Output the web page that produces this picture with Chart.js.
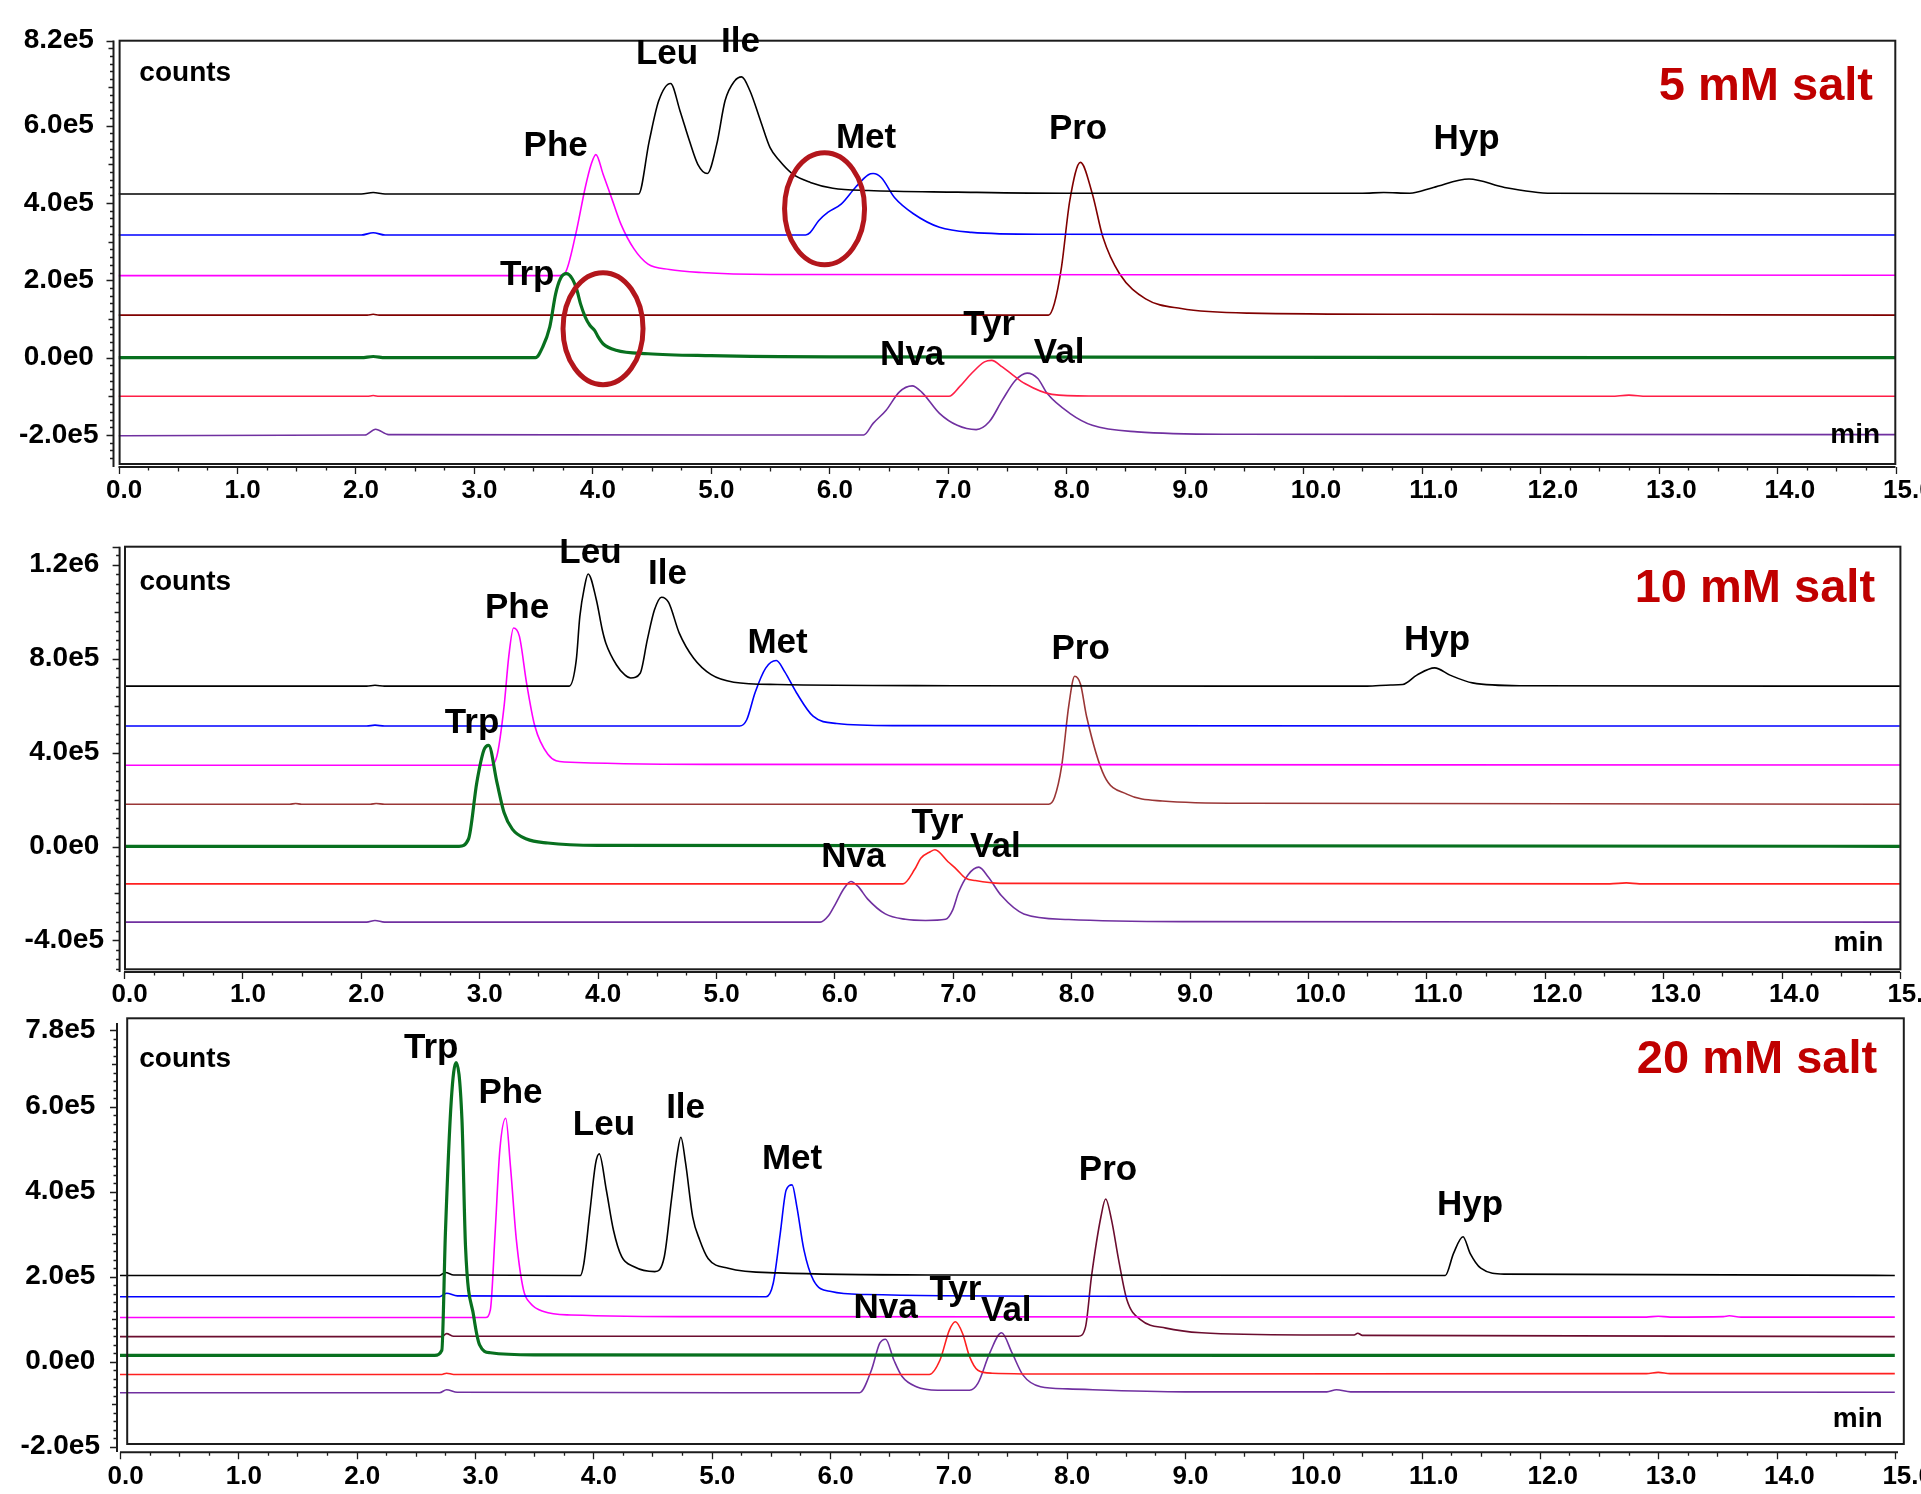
<!DOCTYPE html>
<html>
<head>
<meta charset="utf-8">
<title>Amino acid separation at 5, 10 and 20 mM salt</title>
<script src="https://cdn.jsdelivr.net/npm/chart.js@4.4.1/dist/chart.umd.min.js"></script>
<style>
  html, body { margin: 0; padding: 0; background: #ffffff; width: 1921px; height: 1494px; overflow: hidden; }
  canvas.panel { position: absolute; left: 0; }
</style>
</head>
<body>
<canvas id="panel5" class="panel"></canvas>
<canvas id="panel10" class="panel"></canvas>
<canvas id="panel20" class="panel"></canvas>
<script>
// ---------- axis tick values ----------
const timeTicks = [0, 1, 2, 3, 4, 5, 6, 7, 8, 9, 10, 11, 12, 13, 14, 15];
const countTicks5 = [-2e5, 0, 2e5, 4e5, 6e5, 8.2e5];
const countTicks10 = [-4e5, 0, 4e5, 8e5, 1.2e6];
const countTicks20 = [-2e5, 0, 2e5, 4e5, 6e5, 7.8e5];

// ---------- 5 mM salt traces: [time (min), counts] ----------
const trp5 = [[0,0],[2.05,0],[2.15,0.03e5],[2.25,0],[3.52,0],[3.58,0.27e5],[3.64,0.79e5],[3.69,1.65e5],[3.73,2.04e5],[3.78,2.17e5],[3.83,2.04e5],[3.87,1.74e5],[3.9,1.39e5],[3.94,1.05e5],[3.98,0.83e5],[4.02,0.7e5],[4.05,0.53e5],[4.09,0.36e5],[4.2,0.19e5],[4.47,0.1e5],[5,0.05e5],[6,0.02e5],[15,0]];
const leu5 = [[0,4.23e5],[2.05,4.23e5],[2.15,4.27e5],[2.25,4.23e5],[4.39,4.23e5],[4.48,5.6e5],[4.56,6.64e5],[4.66,7.09e5],[4.74,6.38e5],[4.82,5.6e5],[4.89,5.0e5],[4.97,4.76e5],[5.05,5.52e5],[5.12,6.64e5],[5.2,7.15e5],[5.26,7.26e5],[5.33,6.9e5],[5.42,6.12e5],[5.5,5.43e5],[5.58,5.09e5],[5.69,4.75e5],[5.84,4.53e5],[6.03,4.38e5],[6.33,4.32e5],[7.08,4.28e5],[8,4.25e5],[10.5,4.25e5],[10.68,4.27e5],[10.9,4.25e5],[11.1,4.4e5],[11.4,4.62e5],[11.7,4.4e5],[12.1,4.25e5],[15,4.23e5]];
const met5 = [[0,3.17e5],[2.05,3.17e5],[2.15,3.23e5],[2.25,3.17e5],[5.8,3.17e5],[5.84,3.24e5],[5.91,3.54e5],[5.99,3.76e5],[6.1,3.97e5],[6.22,4.4e5],[6.33,4.73e5],[6.37,4.76e5],[6.44,4.65e5],[6.55,4.14e5],[6.71,3.72e5],[6.93,3.37e5],[7.2,3.24e5],[7.8,3.19e5],[15,3.17e5]];
const phe5 = [[0,2.12e5],[3.72,2.12e5],[3.77,2.19e5],[3.86,3.2e5],[3.94,4.4e5],[3.99,5.0e5],[4.03,5.25e5],[4.09,4.75e5],[4.17,4.06e5],[4.24,3.46e5],[4.35,2.82e5],[4.47,2.42e5],[4.65,2.28e5],[4.92,2.2e5],[5.5,2.15e5],[15,2.13e5]];
const pro5 = [[0,1.1e5],[2.1,1.1e5],[2.15,1.12e5],[2.2,1.1e5],[7.85,1.1e5],[7.9,1.4e5],[7.96,2.34e5],[8.03,4.06e5],[8.12,5.05e5],[8.22,4.24e5],[8.31,3.11e5],[8.45,2.17e5],[8.67,1.52e5],[8.97,1.27e5],[9.54,1.15e5],[11,1.12e5],[15,1.1e5]];
const tyr5 = [[0,-1e5],[2.1,-1e5],[2.15,-0.98e5],[2.2,-1e5],[7.01,-1e5],[7.1,-0.75e5],[7.2,-0.41e5],[7.31,-0.11e5],[7.37,-0.07e5],[7.46,-0.24e5],[7.55,-0.45e5],[7.65,-0.67e5],[7.88,-0.95e5],[8.2,-0.99e5],[12.6,-1e5],[12.75,-0.97e5],[12.9,-1e5],[15,-1e5]];
const nvaVal5 = [[0,-2.02e5],[2.08,-2.0e5],[2.17,-1.85e5],[2.28,-1.99e5],[6.29,-2.0e5],[6.37,-1.7e5],[6.48,-1.36e5],[6.59,-0.89e5],[6.7,-0.73e5],[6.78,-0.89e5],[6.93,-1.44e5],[7.08,-1.75e5],[7.24,-1.86e5],[7.35,-1.66e5],[7.46,-1.1e5],[7.57,-0.59e5],[7.67,-0.4e5],[7.76,-0.54e5],[7.84,-0.93e5],[8.03,-1.44e5],[8.22,-1.75e5],[8.6,-1.92e5],[9.35,-1.98e5],[15,-1.99e5]];

// ---------- 10 mM salt traces ----------
const trp10 = [[0,0.01e5],[2.83,0.01e5],[2.91,0.32e5],[2.98,2.73e5],[3.04,4.11e5],[3.08,4.31e5],[3.15,2.73e5],[3.21,1.45e5],[3.28,0.74e5],[3.4,0.32e5],[3.58,0.15e5],[4,0.05e5],[15,0.01e5]];
const leu10 = [[0,6.83e5],[2.05,6.83e5],[2.12,6.87e5],[2.2,6.83e5],[3.76,6.83e5],[3.82,7.94e5],[3.85,9.79e5],[3.89,1.107e6],[3.92,1.161e6],[3.99,1.05e6],[4.04,9.22e5],[4.07,8.66e5],[4.16,7.73e5],[4.23,7.31e5],[4.28,7.18e5],[4.36,7.38e5],[4.42,8.8e5],[4.48,1.007e6],[4.54,1.062e6],[4.6,1.04e6],[4.69,9.09e5],[4.81,8.03e5],[4.96,7.32e5],[5.15,7.0e5],[5.52,6.9e5],[7,6.85e5],[10.5,6.83e5],[10.7,6.88e5],[10.8,6.9e5],[10.92,7.3e5],[11.07,7.61e5],[11.2,7.3e5],[11.39,6.97e5],[11.8,6.85e5],[15,6.83e5]];
const met10 = [[0,5.13e5],[2.05,5.13e5],[2.12,5.17e5],[2.2,5.13e5],[5.2,5.13e5],[5.26,5.4e5],[5.33,6.55e5],[5.42,7.6e5],[5.51,7.92e5],[5.58,7.45e5],[5.68,6.55e5],[5.82,5.55e5],[6.02,5.24e5],[6.5,5.15e5],[15,5.13e5]];
const phe10 = [[0,3.46e5],[3.09,3.46e5],[3.15,3.86e5],[3.21,5.96e5],[3.25,8.1e5],[3.29,9.31e5],[3.34,8.95e5],[3.4,6.97e5],[3.47,5.13e5],[3.58,3.93e5],[3.72,3.6e5],[5,3.5e5],[15,3.47e5]];
const pro10 = [[0,1.8e5],[1.4,1.8e5],[1.45,1.83e5],[1.5,1.8e5],[2.08,1.8e5],[2.13,1.83e5],[2.2,1.8e5],[7.81,1.8e5],[7.86,2.1e5],[7.92,3.43e5],[7.98,6.0e5],[8.03,7.25e5],[8.08,6.9e5],[8.13,5.55e5],[8.28,3.01e5],[8.47,2.23e5],[8.77,1.94e5],[9.5,1.84e5],[15,1.8e5]];
const tyr10 = [[0,-1.59e5],[6.58,-1.59e5],[6.68,-0.96e5],[6.73,-0.5e5],[6.81,-0.22e5],[6.85,-0.14e5],[6.96,-0.65e5],[7.03,-0.96e5],[7.11,-1.35e5],[7.19,-1.45e5],[7.4,-1.57e5],[12.55,-1.59e5],[12.69,-1.55e5],[12.8,-1.59e5],[15,-1.59e5]];
const nvaVal10 = [[0,-3.22e5],[2.05,-3.22e5],[2.12,-3.15e5],[2.2,-3.22e5],[5.88,-3.22e5],[5.95,-2.95e5],[6.01,-2.44e5],[6.08,-1.8e5],[6.14,-1.49e5],[6.2,-1.7e5],[6.28,-2.23e5],[6.43,-2.87e5],[6.6,-3.1e5],[6.77,-3.15e5],[6.94,-3.1e5],[7.0,-2.7e5],[7.05,-1.94e5],[7.13,-1.2e5],[7.22,-0.88e5],[7.3,-1.3e5],[7.41,-2.09e5],[7.6,-2.87e5],[7.98,-3.11e5],[9,-3.2e5],[15,-3.22e5]];

// ---------- 20 mM salt traces ----------
const trp20 = [[0,0.15e5],[2.66,0.15e5],[2.72,0.27e5],[2.75,3.02e5],[2.8,6.16e5],[2.84,7.04e5],[2.89,5.69e5],[2.92,2.71e5],[2.99,1.06e5],[3.04,0.39e5],[3.13,0.21e5],[3.5,0.16e5],[15,0.15e5]];
const leu20 = [[0,2.03e5],[2.7,2.03e5],[2.75,2.1e5],[2.82,2.04e5],[3.89,2.03e5],[3.92,2.31e5],[3.97,3.5e5],[4.02,4.67e5],[4.05,4.89e5],[4.11,4.04e5],[4.17,3.1e5],[4.24,2.47e5],[4.34,2.24e5],[4.52,2.12e5],[4.6,2.47e5],[4.66,3.8e5],[4.71,4.9e5],[4.74,5.28e5],[4.78,4.67e5],[4.84,3.41e5],[4.9,2.86e5],[4.97,2.43e5],[5.14,2.2e5],[5.56,2.09e5],[7,2.04e5],[11.2,2.03e5],[11.27,2.55e5],[11.35,2.94e5],[11.41,2.55e5],[11.5,2.2e5],[11.7,2.06e5],[15,2.03e5]];
const met20 = [[0,1.53e5],[2.7,1.53e5],[2.76,1.61e5],[2.85,1.55e5],[5.46,1.53e5],[5.52,1.84e5],[5.58,3.02e5],[5.63,4.04e5],[5.68,4.16e5],[5.72,3.65e5],[5.78,2.63e5],[5.86,1.92e5],[6.01,1.65e5],[6.31,1.58e5],[8,1.54e5],[15,1.53e5]];
const phe20 = [[0,1.04e5],[3.09,1.04e5],[3.13,1.22e5],[3.17,3.02e5],[3.21,4.98e5],[3.26,5.73e5],[3.3,4.59e5],[3.35,2.86e5],[3.41,1.69e5],[3.47,1.37e5],[3.58,1.18e5],[3.81,1.1e5],[5,1.06e5],[12.9,1.05e5],[13,1.07e5],[13.1,1.05e5],[13.55,1.06e5],[13.6,1.08e5],[13.7,1.05e5],[15,1.05e5]];
const pro20 = [[0,0.59e5],[2.72,0.59e5],[2.76,0.66e5],[2.82,0.6e5],[8.1,0.6e5],[8.16,0.82e5],[8.21,2.0e5],[8.29,3.41e5],[8.33,3.83e5],[8.38,3.33e5],[8.44,2.39e5],[8.51,1.45e5],[8.63,0.98e5],[8.84,0.79e5],[9.14,0.68e5],[10,0.63e5],[10.43,0.63e5],[10.46,0.67e5],[10.5,0.62e5],[15,0.59e5]];
const tyr20 = [[0,-0.3e5],[2.72,-0.3e5],[2.76,-0.27e5],[2.82,-0.3e5],[6.84,-0.3e5],[6.93,0.04e5],[7.01,0.75e5],[7.06,0.94e5],[7.12,0.67e5],[7.18,0.12e5],[7.25,-0.2e5],[7.37,-0.27e5],[8,-0.29e5],[12.9,-0.28e5],[13,-0.25e5],[13.1,-0.28e5],[15,-0.28e5]];
const nvaVal20 = [[0,-0.73e5],[2.7,-0.73e5],[2.76,-0.66e5],[2.85,-0.72e5],[6.25,-0.73e5],[6.35,-0.2e5],[6.42,0.43e5],[6.47,0.53e5],[6.54,0.04e5],[6.61,-0.35e5],[6.73,-0.59e5],[6.91,-0.67e5],[7.18,-0.67e5],[7.25,-0.51e5],[7.35,0.2e5],[7.45,0.68e5],[7.54,0.2e5],[7.63,-0.31e5],[7.78,-0.59e5],[8.01,-0.64e5],[9,-0.71e5],[10.2,-0.71e5],[10.28,-0.66e5],[10.4,-0.71e5],[15,-0.72e5]];

// ---------- peak names ----------
const peakNames = ['Leu', 'Ile', 'Phe', 'Trp', 'Met', 'Pro', 'Hyp', 'Tyr', 'Nva', 'Val'];

// ---------- look of the page ----------
const FONT = "'Liberation Sans', Arial, Helvetica, sans-serif";
const CANVAS_W = 1960;
const GREEN = '#08701f';

function fmtCounts(v) {
  return v.toExponential(1).replace('+', '');
}

// Per panel layout (page pixels) and the annotations placed in (time, counts) space.
const panels = [
  {
    canvas: 'panel5', top: 0, height: 505,
    area: { left: 118.5, right: 1895.5, top: 40.5, bottom: 464 },
    yMin: -2.75e5, yMax: 8.2e5, yTicks: countTicks5, yMinor: 2e4, yMid: 1e5,
    frame: { left: 119.6, top: 40.7, right: 1895.3, bottom: 464 },
    yAxis: { x: 113.5, top: 40.5, bottom: 467 },
    xAxis: { y: 467, left: 118.5, right: 1895.5 },
    xLabelPad: 11,
    series: [
      { data: trp5, color: GREEN, width: 3.2 },
      { data: leu5, color: '#000000', width: 1.6 },
      { data: met5, color: '#0000ff', width: 1.6 },
      { data: phe5, color: '#ff00ff', width: 1.6 },
      { data: pro5, color: '#800000', width: 1.6 },
      { data: tyr5, color: '#ff1e46', width: 1.6 },
      { data: nvaVal5, color: '#7030a0', width: 1.6 }
    ],
    peaks: [[4.63, 7.59e5], [5.25, 7.89e5], [3.69, 5.22e5], [3.45, 1.87e5], [6.31, 5.43e5], [8.10, 5.65e5], [11.38, 5.39e5], [7.35, 0.58e5], [6.70, -0.20e5], [7.94, -0.15e5]],
    counts: [0.176, 7.156e5], title: '5 mM salt', titleAt: [14.81, 6.658e5], minAt: [14.45, -2.219e5],
    rings: [{ t: 4.09, v: 0.75e5, rx: 40, ry: 56 }, { t: 5.96, v: 3.85e5, rx: 40, ry: 56 }]
  },
  {
    canvas: 'panel10', top: 505, height: 505,
    area: { left: 124, right: 1900, top: 546.7, bottom: 969.3 },
    yMin: -5.23e5, yMax: 1.277e6, yTicks: countTicks10, yMinor: 4e4, yMid: 2e5,
    frame: { left: 125, top: 546.7, right: 1900.4, bottom: 969.3 },
    yAxis: { x: 119.6, top: 546.7, bottom: 972 },
    xAxis: { y: 972, left: 124, right: 1900 },
    xLabelPad: 9.5,
    series: [
      { data: trp10, color: GREEN, width: 3.2 },
      { data: leu10, color: '#000000', width: 1.6 },
      { data: met10, color: '#0000ff', width: 1.6 },
      { data: phe10, color: '#ff00ff', width: 1.6 },
      { data: pro10, color: '#9a3636', width: 1.6 },
      { data: tyr10, color: '#ff2020', width: 1.6 },
      { data: nvaVal10, color: '#7030a0', width: 1.6 }
    ],
    peaks: [[3.94, 1.209e6], [4.59, 1.118e6], [3.32, 9.72e5], [2.94, 4.82e5], [5.52, 8.26e5], [8.08, 7.97e5], [11.09, 8.37e5], [6.87, 0.59e5], [6.16, -0.86e5], [7.36, -0.43e5]],
    counts: [0.13, 1.0927e6], title: '10 mM salt', titleAt: [14.79, 1.0428e6], minAt: [14.44, -4.439e5],
    rings: []
  },
  {
    canvas: 'panel20', top: 985, height: 509,
    area: { left: 120, right: 1898, top: 1030.2, bottom: 1446.7 },
    yMin: -2e5, yMax: 7.8e5, yTicks: countTicks20, yMinor: 2e4, yMid: 1e5,
    frame: { left: 127.2, top: 1018.3, right: 1903.8, bottom: 1444 },
    yAxis: { x: 117, top: 1023, bottom: 1452 },
    xAxis: { y: 1452.3, left: 120, right: 1898 },
    xLabelPad: 14.5,
    series: [
      { data: trp20, color: GREEN, width: 3.2 },
      { data: leu20, color: '#000000', width: 1.6 },
      { data: met20, color: '#0000ff', width: 1.6 },
      { data: phe20, color: '#ff00ff', width: 1.6 },
      { data: pro20, color: '#6b0d2f', width: 1.6 },
      { data: tyr20, color: '#ff2020', width: 1.6 },
      { data: nvaVal20, color: '#7030a0', width: 1.6 }
    ],
    peaks: [[4.09, 5.33e5], [4.78, 5.73e5], [3.30, 6.08e5], [2.63, 7.14e5], [5.68, 4.53e5], [8.35, 4.28e5], [11.41, 3.45e5], [7.06, 1.45e5], [6.47, 1.02e5], [7.49, 0.96e5]],
    counts: [0.163, 6.941e5], title: '20 mM salt', titleAt: [14.85, 6.786e5], minAt: [14.475, -1.529e5],
    rings: []
  }
];

// Frame, axis lines, tick marks, peak names, panel captions and highlight rings.
const decorPlugin = {
  id: 'decor',
  afterDatasetsDraw(chart, args, opts) {
    const p = opts.panel;
    const off = p.top;
    const ctx = chart.ctx;
    const xs = chart.scales.x;
    const ys = chart.scales.y;
    ctx.save();

    // plot frame
    ctx.strokeStyle = '#1c1c1c';
    ctx.lineWidth = 2;
    const f = p.frame;
    ctx.strokeRect(f.left, f.top - off, f.right - f.left, f.bottom - f.top);

    // x axis line and ticks
    ctx.beginPath();
    ctx.moveTo(p.xAxis.left, p.xAxis.y - off);
    ctx.lineTo(p.xAxis.right, p.xAxis.y - off);
    ctx.stroke();
    ctx.lineWidth = 1.3;
    ctx.beginPath();
    for (let i = 0; i <= 60; i++) {
      const t = i / 4;
      const px = Math.round(xs.getPixelForValue(t)) + 0.5;
      const len = i % 4 === 0 ? 7 : (i % 2 === 0 ? 4.5 : 3.5);
      ctx.moveTo(px, p.xAxis.y - off);
      ctx.lineTo(px, p.xAxis.y - off + len);
    }
    ctx.stroke();

    // y axis line and ticks
    ctx.lineWidth = 2;
    ctx.beginPath();
    ctx.moveTo(p.yAxis.x, p.yAxis.top - off);
    ctx.lineTo(p.yAxis.x, p.yAxis.bottom - off);
    ctx.stroke();
    ctx.lineWidth = 1.3;
    ctx.beginPath();
    const k0 = Math.ceil(p.yMin / p.yMinor);
    const k1 = Math.floor(p.yMax / p.yMinor);
    for (let k = k0; k <= k1; k++) {
      const v = k * p.yMinor;
      const labelled = p.yTicks.some(tv => Math.abs(tv - v) < 1);
      const mid = Math.abs(Math.round(v / p.yMid) * p.yMid - v) < 1;
      const len = labelled ? 7 : (mid ? 5 : 3.5);
      const py = Math.round(ys.getPixelForValue(v)) + 0.5;
      ctx.moveTo(p.yAxis.x, py);
      ctx.lineTo(p.yAxis.x - len, py);
    }
    const pTop = Math.round(ys.getPixelForValue(p.yMax)) + 0.5;
    ctx.moveTo(p.yAxis.x, pTop);
    ctx.lineTo(p.yAxis.x - 7, pTop);
    ctx.stroke();

    // text helpers
    const put = (text, t, v, align, size, color) => {
      ctx.font = 'bold ' + size + 'px ' + FONT;
      ctx.fillStyle = color;
      ctx.textAlign = align;
      ctx.textBaseline = 'alphabetic';
      ctx.fillText(text, xs.getPixelForValue(t), ys.getPixelForValue(v));
    };

    put('counts', p.counts[0], p.counts[1], 'left', 28, '#000000');
    put(p.title, p.titleAt[0], p.titleAt[1], 'right', 47, '#c00000');
    put('min', p.minAt[0], p.minAt[1], 'left', 28, '#000000');
    peakNames.forEach((name, i) => {
      const [t, v] = p.peaks[i];
      put(name, t, v, 'center', 35, '#000000');
    });

    // highlight rings
    ctx.strokeStyle = '#b3161c';
    ctx.lineWidth = 5;
    p.rings.forEach(r => {
      ctx.beginPath();
      ctx.ellipse(xs.getPixelForValue(r.t), ys.getPixelForValue(r.v), r.rx, r.ry, 0, 0, Math.PI * 2);
      ctx.stroke();
    });

    ctx.restore();
  }
};

panels.forEach(p => {
  const el = document.getElementById(p.canvas);
  el.width = CANVAS_W;
  el.height = p.height;
  el.style.width = CANVAS_W + 'px';
  el.style.height = p.height + 'px';
  el.style.top = p.top + 'px';

  new Chart(el, {
    type: 'line',
    data: {
      datasets: p.series.map(s => ({
        data: s.data,
        borderColor: s.color,
        borderWidth: s.width,
        pointRadius: 0,
        fill: false,
        cubicInterpolationMode: 'monotone'
      }))
    },
    options: {
      responsive: false,
      animation: false,
      events: [],
      devicePixelRatio: 1,
      layout: { padding: { top: p.area.top - p.top, right: CANVAS_W - p.area.right, left: 0, bottom: 0 } },
      plugins: {
        legend: { display: false },
        tooltip: { enabled: false },
        decor: { panel: p }
      },
      scales: {
        x: {
          type: 'linear', min: 0, max: 15,
          grid: { display: false, drawTicks: false },
          border: { display: false },
          afterBuildTicks: s => { s.ticks = timeTicks.map(v => ({ value: v })); },
          afterFit: s => { s.height = p.height - (p.area.bottom - p.top); },
          ticks: {
            autoSkip: false, maxRotation: 0, minRotation: 0,
            align: 'start', labelOffset: -12.5,
            padding: p.xLabelPad, color: '#000000',
            font: { family: FONT, size: 26, weight: 'bold' },
            callback: v => v.toFixed(1)
          }
        },
        y: {
          type: 'linear', min: p.yMin, max: p.yMax,
          grid: { display: false, drawTicks: false },
          border: { display: false },
          afterBuildTicks: s => { s.ticks = p.yTicks.map(v => ({ value: v })); },
          afterFit: s => { s.width = p.area.left; },
          ticks: {
            autoSkip: false, crossAlign: 'center', padding: 20, color: '#000000',
            font: { family: FONT, size: 28, weight: 'bold' },
            callback: v => fmtCounts(v)
          }
        }
      }
    },
    plugins: [decorPlugin]
  });
});
</script>
</body>
</html>
